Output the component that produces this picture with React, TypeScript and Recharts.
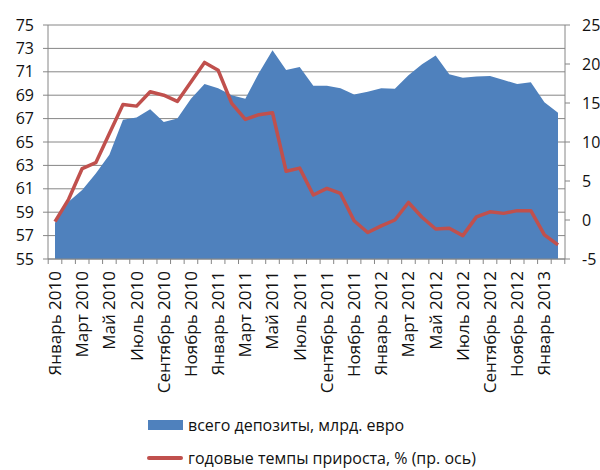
import { Area, CartesianGrid, ComposedChart, Legend, Line, XAxis, YAxis } from "recharts";

const months = [
  "Январь 2010", "Февраль 2010", "Март 2010", "Апрель 2010", "Май 2010", "Июнь 2010",
  "Июль 2010", "Август 2010", "Сентябрь 2010", "Октябрь 2010", "Ноябрь 2010", "Декабрь 2010",
  "Январь 2011", "Февраль 2011", "Март 2011", "Апрель 2011", "Май 2011", "Июнь 2011",
  "Июль 2011", "Август 2011", "Сентябрь 2011", "Октябрь 2011", "Ноябрь 2011", "Декабрь 2011",
  "Январь 2012", "Февраль 2012", "Март 2012", "Апрель 2012", "Май 2012", "Июнь 2012",
  "Июль 2012", "Август 2012", "Сентябрь 2012", "Октябрь 2012", "Ноябрь 2012", "Декабрь 2012",
  "Январь 2013", "Февраль 2013",
];

// всего депозиты, млрд. евро
const deposits = [
  58.1, 59.9, 60.9, 62.3, 63.9, 66.9, 67.1, 67.8, 66.7, 67.0, 68.7, 69.95,
  69.6, 69.0, 68.7, 70.9, 72.85, 71.15, 71.4, 69.8, 69.8, 69.6, 69.05, 69.3,
  69.6, 69.55, 70.7, 71.65, 72.4, 70.8, 70.5, 70.6, 70.65, 70.3, 69.95, 70.1,
  68.4, 67.5,
];

// годовые темпы прироста, %
const growth = [
  -0.2, 2.65, 6.6, 7.35, 11.1, 14.8, 14.6, 16.45, 16.0, 15.2, 17.7, 20.2,
  19.2, 14.95, 12.9, 13.5, 13.75, 6.25, 6.65, 3.2, 4.05, 3.4, -0.1, -1.6,
  -0.75, 0.0, 2.25, 0.35, -1.15, -1.05, -2.0, 0.4, 1.05, 0.85, 1.2, 1.2,
  -1.9, -3.2,
];

const leftTicks = [55, 57, 59, 61, 63, 65, 67, 69, 71, 73, 75];
const rightTicks = [-5, 0, 5, 10, 15, 20, 25];

const data = months.map((month, i) => ({ month, deposits: deposits[i], growth: growth[i] }));

const BLUE = "#4F81BD";
const RED = "#C0504D";
const GRID = "#868686";
const FONT = "'Open Sans', sans-serif";
const PLOT_W = 517;
const PAD = 7;
const STEP = (PLOT_W - 2 * PAD) / (months.length - 1);

function MonthTick(props: any) {
  const { x, y, payload, index } = props;
  const last = index === months.length - 1;
  return (
    <g>
      <line x1={x - STEP / 2} x2={x - STEP / 2} y1={y} y2={y + 5} stroke={GRID} />
      {last && <line x1={x + STEP / 2} x2={x + STEP / 2} y1={y} y2={y + 5} stroke={GRID} />}
      {index % 2 === 0 && (
        <text
          x={x}
          y={y + 12}
          dy="0.35em"
          textAnchor="end"
          transform={`rotate(-90, ${x}, ${y + 12})`}
          fontSize={17}
          fontFamily={FONT}
          fill="#111"
        >
          {payload.value}
        </text>
      )}
    </g>
  );
}

function LegendBox() {
  const text = { fontFamily: FONT, fontSize: 16, color: "#111", lineHeight: "18px", whiteSpace: "nowrap" as const };
  return (
    <div style={{ position: "relative", width: 600, height: 62 }}>
      <div style={{ position: "absolute", left: 148, top: 8, display: "flex", alignItems: "center" }}>
        <span style={{ width: 35, height: 10, background: BLUE, marginRight: 5 }} />
        <span style={text}>всего депозиты, млрд. евро</span>
      </div>
      <div style={{ position: "absolute", left: 147, top: 41, display: "flex", alignItems: "center" }}>
        <span style={{ width: 36, height: 4, borderRadius: 2, background: RED, marginRight: 5 }} />
        <span style={text}>годовые темпы прироста, % (пр. ось)</span>
      </div>
    </div>
  );
}

export default function App() {
  const tickStyle = { fontSize: 16, fontFamily: FONT, fill: "#111" };
  return (
    <div style={{ position: "absolute", left: 0, top: 0, background: "#fff" }}>
      <ComposedChart
        width={600}
        height={470}
        data={data}
        margin={{ top: 25, right: 0, bottom: 0, left: 0 }}
      >
        <CartesianGrid yAxisId="left" vertical={false} stroke={GRID} strokeWidth={1} />
        <XAxis
          dataKey="month"
          interval={0}
          height={149}
          padding={{ left: PAD, right: PAD }}
          tickLine={false}
          tickSize={0}
          tickMargin={0}
          axisLine={{ stroke: GRID }}
          tick={<MonthTick />}
        />
        <YAxis
          yAxisId="left"
          width={48}
          domain={[55, 75]}
          ticks={leftTicks}
          interval={0}
          tickSize={5}
          tickMargin={9}
          tickLine={{ stroke: GRID }}
          axisLine={{ stroke: GRID }}
          tick={tickStyle}
        />
        <YAxis
          yAxisId="right"
          orientation="right"
          width={35}
          domain={[-5, 25]}
          ticks={rightTicks}
          interval={0}
          tickSize={5}
          tickMargin={12}
          tickLine={{ stroke: GRID }}
          axisLine={{ stroke: GRID }}
          tick={{ ...tickStyle, textAnchor: "start" }}
        />
        <Area
          yAxisId="left"
          type="linear"
          dataKey="deposits"
          name="всего депозиты, млрд. евро"
          fill={BLUE}
          fillOpacity={1}
          stroke="none"
          isAnimationActive={false}
        />
        <Line
          yAxisId="right"
          type="linear"
          dataKey="growth"
          name="годовые темпы прироста, % (пр. ось)"
          stroke={RED}
          strokeWidth={3.5}
          strokeLinejoin="round"
          dot={false}
          isAnimationActive={false}
        />
        <Legend verticalAlign="bottom" align="center" height={62} content={<LegendBox />} />
      </ComposedChart>
    </div>
  );
}
